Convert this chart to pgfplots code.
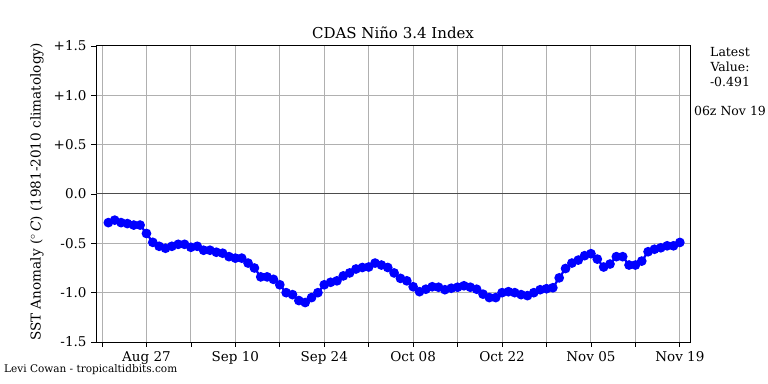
\documentclass[border=0pt]{standalone}
\usepackage{fontspec}
\setmainfont{DejaVu Serif}
\usepackage{pgfplots}
\pgfplotsset{compat=1.18}
\pgfplotstableread{
d v
1 -0.29
2 -0.265
3 -0.29
4 -0.30
5 -0.315
6 -0.315
7 -0.40
8 -0.49
9 -0.53
10 -0.55
11 -0.53
12 -0.51
13 -0.51
14 -0.54
15 -0.53
16 -0.57
17 -0.57
18 -0.59
19 -0.60
20 -0.635
21 -0.65
22 -0.65
23 -0.70
24 -0.75
25 -0.84
26 -0.84
27 -0.865
28 -0.92
29 -1.00
30 -1.02
31 -1.08
32 -1.10
33 -1.05
34 -1.00
35 -0.92
36 -0.895
37 -0.88
38 -0.83
39 -0.80
40 -0.76
41 -0.745
42 -0.74
43 -0.70
44 -0.72
45 -0.745
46 -0.80
47 -0.855
48 -0.88
49 -0.94
50 -0.99
51 -0.965
52 -0.94
53 -0.945
54 -0.97
55 -0.955
56 -0.945
57 -0.93
58 -0.945
59 -0.965
60 -1.015
61 -1.05
62 -1.05
63 -1.00
64 -0.99
65 -1.00
66 -1.02
67 -1.03
68 -1.00
69 -0.97
70 -0.96
71 -0.95
72 -0.85
73 -0.755
74 -0.70
75 -0.67
76 -0.625
77 -0.605
78 -0.66
79 -0.74
80 -0.71
81 -0.635
82 -0.635
83 -0.72
84 -0.72
85 -0.68
86 -0.585
87 -0.56
88 -0.545
89 -0.525
90 -0.525
91 -0.491
}\nino
\begin{document}
\begin{tikzpicture}
\path[use as bounding box] (0,0) rectangle (768bp,384bp);
\begin{axis}[
  at={(96bp,42bp)}, anchor=south west,
  scale only axis, width=594bp, height=296bp,
  xmin=-0.945, xmax=92.6, ymin=-1.5, ymax=1.5,
  xtick={0,7,...,91},
  xticklabels={,Aug 27,,Sep 10,,Sep 24,,Oct 08,,Oct 22,,Nov 05,,Nov 19},
  ytick={-1.5,-1,-0.5,0,0.5,1,1.5},
  yticklabels={-1.5,-1.0,-0.5,0.0,+0.5,+1.0,+1.5},
  xtick pos=bottom, ytick pos=left,
  tick align=outside, major tick length=5bp,
  tick style={black, line width=0.8bp},
  grid=major, major grid style={color=black!31, line width=1bp},
  axis line style={black, line width=1bp},
  ticklabel style={font=\fontsize{13.5bp}{16bp}\selectfont},
  /pgf/number format/assume math mode=true,
  xticklabel style={yshift=-1bp},
  yticklabel style={xshift=-1bp},
  clip=false,
]
\addplot[black!70, line width=1bp, forget plot] coordinates {(-0.945,0) (92.6,0)};
\addplot[color=blue, line width=2.2bp, mark=*, mark size=3.7bp, mark options={fill=blue, draw=blue}] table[x=d,y=v] {\nino};
\end{axis}
\node[font=\fontsize{15bp}{18bp}\selectfont] at (393bp,351bp) {CDAS Niño 3.4 Index};
\node[rotate=90, font=\fontsize{13.6bp}{16bp}\selectfont] at (37bp,192bp) {SST Anomaly ($^\circ$\,\textit{C}) (1981-2010 climatology)};
\node[align=center, font=\fontsize{12.5bp}{15bp}\selectfont] at (730bp,317bp) {Latest\\Value:\\-0.491};
\node[font=\fontsize{12.5bp}{15bp}\selectfont] at (730bp,273bp) {06z Nov 19};
\node[anchor=west, font=\fontsize{10.5bp}{12bp}\selectfont, inner sep=0pt] at (4bp,14bp) {Levi Cowan - tropicaltidbits.com};
\end{tikzpicture}
\end{document}
